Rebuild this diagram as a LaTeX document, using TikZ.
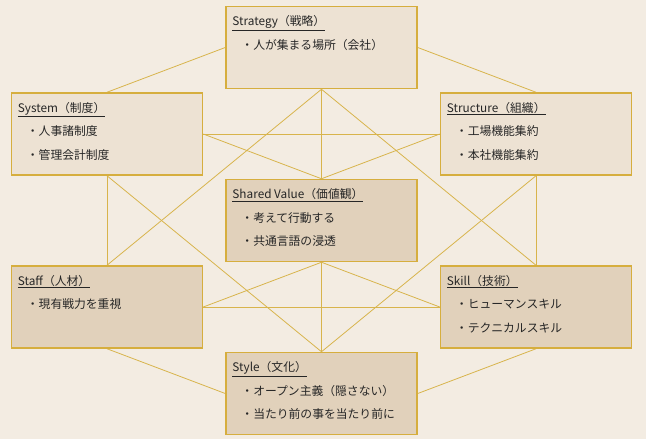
\documentclass[tikz,border=0pt]{standalone}
\usepackage{fontspec}
\setmainfont{Noto Sans CJK JP}
\usetikzlibrary{positioning}

\definecolor{bgcol}{HTML}{F3ECE2}
\definecolor{lightbox}{HTML}{EDE2D3}
\definecolor{darkbox}{HTML}{E1D1BB}
\definecolor{goldline}{HTML}{D8B44C}
\definecolor{goldframe}{HTML}{D6AE3E}
\definecolor{textcol}{HTML}{262626}

\pgfdeclarelayer{back}
\pgfdeclarelayer{lines}
\pgfsetlayers{back,lines,main}

\tikzset{
  basic/.style  = {draw=goldframe, line width=1.5pt, rectangle, minimum width=191pt, minimum height=82pt, inner sep=0pt},
  outer/.style  = {basic, fill=lightbox},
  inner/.style  = {basic, fill=darkbox},
  label/.style  = {anchor=north west, inner sep=0pt, align=left, text=textcol,
                   font=\fontsize{11.8}{23.5}\selectfont},
  link/.style   = {draw=goldline, line width=0.8pt}
}

\newcommand{\ttl}[1]{\underline{#1}}
\newcommand{\itm}[1]{\hspace*{9pt}・#1}

\begin{document}
\begin{tikzpicture}[x=1pt, y=-1pt]
\begin{pgfonlayer}{back}
\fill[bgcol] (0,0) rectangle (646,439);
\end{pgfonlayer}
\useasboundingbox (0,0) rectangle (646,439);

% the seven boxes, outer ring in light colour
\node[outer] (strategy)  at (321.5,47.5) {};
\node[outer] (system)    at (107,134)    {};
\node[outer] (structure) at (536,134)    {};
\node[inner] (shared)    at (321.5,220.5) {};
\node[inner] (staff)     at (107,307)    {};
\node[inner] (skill)     at (536,307)    {};
\node[inner] (style)     at (321.5,393.5) {};

% connections, drawn behind the boxes
\begin{pgfonlayer}{lines}
\draw[link] (strategy.west) -- (system.north);
\draw[link] (strategy.east) -- (structure.north);
\foreach \target in {staff,shared,skill}
  \draw[link] (strategy.south) -- (\target.north);
\foreach \target in {system,structure}
  \draw[link] (\target.south) -- (style.north);
\draw[link] (system.east) -- (structure.west);
\draw[link] (system.east) -- (shared.north);
\draw[link] (structure.west) -- (shared.north);
\draw[link] (system.south) -- (staff.north);
\draw[link] (structure.south) -- (skill.north);
\draw[link] (shared.south) -- (staff.east);
\draw[link] (shared.south) -- (skill.west);
\draw[link] (shared.south) -- (style.north);
\draw[link] (staff.east) -- (skill.west);
\draw[link] (staff.south) -- (style.west);
\draw[link] (skill.south) -- (style.east);
\end{pgfonlayer}

% texts
\node[label] (strategy-t)  at ([shift={(7pt,-9.5pt)}]strategy.north west)
  {\ttl{Strategy（戦略）}\\ \itm{人が集まる場所（会社）}};
\node[label] (system-t)    at ([shift={(7pt,-9.5pt)}]system.north west)
  {\ttl{System（制度）}\\ \itm{人事諸制度}\\ \itm{管理会計制度}};
\node[label] (structure-t) at ([shift={(7pt,-9.5pt)}]structure.north west)
  {\ttl{Structure（組織）}\\ \itm{工場機能集約}\\ \itm{本社機能集約}};
\node[label] (shared-t)    at ([shift={(7pt,-9.5pt)}]shared.north west)
  {\ttl{Shared Value（価値観）}\\ \itm{考えて行動する}\\ \itm{共通言語の浸透}};
\node[label] (staff-t)     at ([shift={(7pt,-9.5pt)}]staff.north west)
  {\ttl{Staff（人材）}\\ \itm{現有戦力を重視}};
\node[label] (skill-t)     at ([shift={(7pt,-9.5pt)}]skill.north west)
  {\ttl{Skill（技術）}\\ \itm{ヒューマンスキル}\\ \itm{テクニカルスキル}};
\node[label] (style-t)     at ([shift={(7pt,-9.5pt)}]style.north west)
  {\ttl{Style（文化）}\\ \itm{オープン主義（隠さない）}\\ \itm{当たり前の事を当たり前に}};
\end{tikzpicture}
\end{document}
